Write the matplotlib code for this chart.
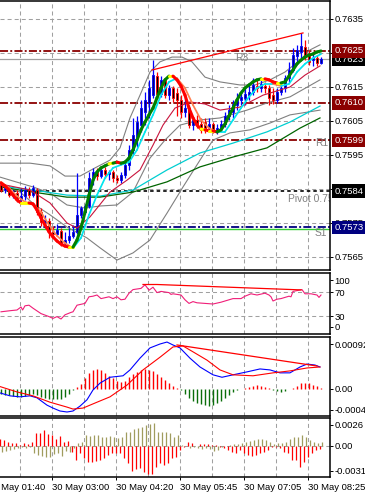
import numpy as np
import matplotlib
matplotlib.use('Agg')
import matplotlib.pyplot as plt
from matplotlib.collections import LineCollection
from matplotlib.transforms import blended_transform_factory as blend

plt.rcParams['font.family'] = ['Liberation Sans', 'DejaVu Sans']
plt.rcParams['lines.scale_dashes'] = False

# 5 minute candles, prices in 1e-5
c_open = np.array([75862, 75847, 75853, 75832, 75838, 75818, 75829, 75847, 75832, 75847,
                   75782, 75753, 75756, 75724, 75718, 75726, 75691, 75700, 75712, 75724,
                   75774, 75782, 75800, 75882, 75900, 75888, 75906, 75894, 75900, 75882,
                   75876, 75891, 75921, 75965, 76003, 76038, 76076, 76103, 76126, 76182,
                   76129, 76171, 76126, 76147, 76132, 76112, 76076, 76088, 76038, 76053,
                   76041, 76047, 76029, 76041, 76024, 76029, 76041, 76065, 76076, 76097,
                   76112, 76118, 76126, 76135, 76153, 76147, 76153, 76147, 76126, 76112,
                   76135, 76147, 76176, 76200, 76241, 76253, 76268, 76244, 76229, 76235,
                   76221]) / 1e5
c_high = np.array([75868, 75862, 75859, 75847, 75847, 75853, 75859, 75856, 75862, 75853,
                   75794, 75774, 75765, 75741, 75747, 75735, 75724, 75735, 75744, 75897,
                   75800, 75806, 75900, 75912, 75912, 75918, 75915, 75906, 75906, 75891,
                   75900, 75935, 75979, 76059, 76065, 76112, 76135, 76171, 76229, 76194,
                   76182, 76176, 76156, 76153, 76147, 76126, 76121, 76097, 76062, 76068,
                   76059, 76059, 76059, 76047, 76041, 76053, 76076, 76097, 76112, 76132,
                   76141, 76147, 76156, 76176, 76171, 76171, 76165, 76156, 76147, 76147,
                   76165, 76185, 76224, 76265, 76274, 76309, 76288, 76259, 76253, 76244,
                   76238]) / 1e5
c_low = np.array([75841, 75838, 75826, 75824, 75812, 75812, 75818, 75824, 75826, 75774,
                  75741, 75735, 75706, 75706, 75712, 75682, 75685, 75691, 75706, 75718,
                  75765, 75776, 75794, 75862, 75876, 75882, 75882, 75876, 75871, 75868,
                  75868, 75882, 75906, 75950, 75974, 76018, 76038, 76059, 76118, 76118,
                  76121, 76118, 76112, 76106, 76065, 76059, 76062, 76029, 76024, 76029,
                  76015, 76015, 76021, 76015, 76012, 76021, 76032, 76053, 76059, 76082,
                  76097, 76097, 76112, 76126, 76135, 76135, 76132, 76097, 76100, 76103,
                  76126, 76135, 76165, 76194, 76224, 76235, 76229, 76215, 76212, 76212,
                  76218]) / 1e5
c_close = np.array([75847, 75853, 75832, 75838, 75818, 75829, 75847, 75832, 75853, 75782,
                    75753, 75759, 75724, 75718, 75729, 75691, 75700, 75712, 75724, 75774,
                    75794, 75800, 75882, 75900, 75888, 75906, 75894, 75900, 75882, 75876,
                    75891, 75921, 75965, 76009, 76047, 76088, 76112, 76147, 76185, 76129,
                    76171, 76126, 76147, 76118, 76112, 76076, 76088, 76038, 76053, 76041,
                    76024, 76024, 76041, 76024, 76029, 76041, 76065, 76082, 76100, 76112,
                    76121, 76129, 76135, 76156, 76147, 76159, 76147, 76118, 76112, 76135,
                    76147, 76176, 76200, 76244, 76259, 76271, 76244, 76224, 76235, 76221,
                    76232]) / 1e5

# bollinger bands and moving averages (bar index, price 1e-5)
bb_up_x = [-0.25, 7.25, 12.25, 16, 19.75, 23.5, 27.25, 29.75, 32.25, 34.75, 37.25, 39.75,
           42.75, 45.25, 47.75, 51, 54.75, 59.75, 63.5, 67.25, 71, 74.75, 77.25, 79.75]
bb_up = np.array([75926, 75926, 75918, 75888, 75888, 75912, 75935, 75971, 76059, 76126, 76194, 76224,
                  76238, 76238, 76224, 76179, 76165, 76156, 76156, 76171, 76194, 76229, 76259, 76274]) / 1e5
bb_mid_x = [-0.25, 8, 12.25, 16.5, 21, 24.75, 29, 33, 37.25, 41, 44.75, 49.75, 54.75, 61.5, 66.5, 72.25, 79.75]
bb_mid = np.array([75885, 75856, 75838, 75803, 75794, 75800, 75803, 75841, 75941, 75994, 76038, 76053,
                   76059, 76082, 76103, 76121, 76171]) / 1e5
bb_lo_x = [-0.25, 4.75, 8.5, 12.25, 16.5, 21.5, 24.75, 29, 33, 37.25, 41.5, 45.5, 49.75, 53, 57.25,
           62.25, 67.25, 72.25, 79.75]
bb_lo = np.array([75865, 75841, 75803, 75774, 75738, 75706, 75677, 75641, 75662, 75700, 75779, 75856,
                  75935, 75994, 76015, 76024, 76044, 76068, 76082]) / 1e5
ma_x = [-0.25, 8, 16.5, 24.75, 33, 41.5, 49.75, 58, 66.5, 72.25, 79.75]
ma_cyan = np.array([75859, 75847, 75832, 75829, 75847, 75906, 75956, 75985, 76018, 76047, 76094]) / 1e5
ma_green_x = [-0.25, 8, 16.5, 24.75, 33, 41.5, 49.75, 58, 66.5, 74.75, 79.75]
ma_green = np.array([75856, 75841, 75826, 75826, 75841, 75871, 75915, 75944, 75971, 76029, 76059]) / 1e5
ma_red_x = [-0.25, 7.25, 12.25, 16.5, 19, 22.25, 27.25, 31.5, 34.75, 38, 40.5, 43.5, 47.25, 51,
            54.75, 59.75, 65.5, 72.25, 76, 79.75]
ma_red = np.array([75865, 75847, 75809, 75750, 75735, 75768, 75841, 75876, 75906, 75979, 76038, 76088,
                   76106, 76100, 76082, 76091, 76126, 76150, 76185, 76212]) / 1e5

# fast colour-changing average (every bar) and slow one (every 2 bars)
fast = np.array([75868, 75859, 75847, 75832, 75818, 75809, 75809, 75809, 75806, 75788,
                 75765, 75744, 75724, 75709, 75697, 75688, 75682, 75679, 75679, 75700,
                 75735, 75782, 75832, 75876, 75900, 75912, 75918, 75924, 75926, 75929,
                 75926, 75929, 75941, 75965, 75994, 76024, 76047, 76068, 76088, 76118,
                 76147, 76171, 76182, 76182, 76171, 76153, 76126, 76088, 76059, 76038,
                 76026, 76024, 76021, 76021, 76018, 76024, 76041, 76065, 76088, 76112,
                 76132, 76147, 76156, 76165, 76171, 76174, 76174, 76171, 76165, 76162,
                 76162, 76165, 76182, 76200, 76218, 76229, 76238, 76244, 76247, 76253,
                 76256]) / 1e5
slow = np.array([75871, 75853, 75829, 75812, 75806, 75782, 75744, 75712, 75691, 75676,
                 75706, 75774, 75832, 75882, 75912, 75921, 75929, 75965, 76018, 76068,
                 76126, 76165, 76176, 76147, 76097, 76053, 76029, 76018, 76018, 76053,
                 76088, 76121, 76147, 76159, 76159, 76153, 76159, 76194, 76218, 76235,
                 76247]) / 1e5

# RSI
rsi_x = [0, 2.5, 4, 5, 5.4, 6, 7, 8, 10, 12, 13, 14, 15, 16, 17.5, 18, 19, 21, 22, 23,
         24, 25, 27, 28, 29, 30, 31, 32, 33, 35, 36, 37, 38, 39, 40, 42, 42.5, 43, 45, 46,
         47, 48, 49, 51, 53, 55, 57, 58, 60, 61, 62.5, 64, 66, 67, 67.5, 68, 69, 70, 72, 72.5,
         73, 74.5, 75.25, 76, 77.5, 79, 79.5, 80]
rsi_v = [37, 39, 40, 45, 40, 47, 48, 43, 34, 29, 26, 29, 25, 32, 36, 37, 48, 51, 62, 63,
         65, 59, 62, 59, 62, 57, 58, 68, 74, 76, 82, 73, 78, 69, 71, 69, 66, 67, 65, 57,
         51, 54, 52, 51, 50, 53, 57, 59, 59, 63, 67, 65, 68, 65, 62, 55, 58, 59, 63, 62,
         71, 73, 74, 67, 67, 65, 61, 65]
rsi_tl_x = [35.5, 39, 75]
rsi_tl_v = [82.5, 82.5, 73.5]

# MACD (1e-5)
macd_x = [-0.25, 2.25, 4.75, 7.25, 9, 11.5, 13, 14.75, 16.5, 18, 19.75, 21.5, 23, 24.75, 27.25,
          30.5, 32.25, 34.75, 37.25, 39.75, 41.5, 43, 44.75, 47.25, 49.75, 53, 55.25, 58, 61.5,
          64.75, 67.25, 69.75, 72.25, 74.75, 76.5, 78.5, 79.75]
macd_v = np.array([-8, -14, -16, -14, -18, -33, -39, -45, -47, -45, -35, -22, -2, 12, 24,
                   27, 39, 63, 84, 92, 96, 90, 84, 63, 45, 29, 24, 29, 35,
                   41, 39, 33, 33, 45, 51, 49, 45]) / 1e5
sig_x = [-0.25, 4, 8, 12.25, 16.5, 18, 20.5, 24, 27.25, 31.5, 35.5, 39.75, 43, 45.5, 48, 51.5,
         54.75, 58, 63, 68, 72.25, 76.5, 79.75]
sig_v = np.array([5, -6, -14, -27, -37, -41, -39, -27, -16, 8, 39, 65, 86, 88, 76, 59,
                  39, 29, 27, 33, 37, 43, 45]) / 1e5
macd_tl_x = [44, 79]
macd_tl_v = np.array([90, 47]) / 1e5
osma = np.array([-10, -12, -13, -14, -16, -17, -14, -12, -10, -13,
                 -16, -18, -20, -21, -21, -20, -16, -10, -3, 5,
                 10, 22, 32, 39, 41, 39, 33, 27, 22, 17,
                 15, 17, 24, 31, 35, 39, 40, 39, 37, 31,
                 25, 18, 12, 6, 2, -2, -10, -19, -24, -28,
                 -31, -33, -35, -33, -29, -25, -19, -13, -6, -2,
                 0, 3, 5, 7, 8, 7, 5, 2, -2, -5,
                 -6, -4, -1, 3, 7, 12, 13, 12, 9, 6, 2]) / 1e5

# bottom oscillator pair (1e-4)
osc_red = np.array([7.8, 7.0, 4.1, 3.7, 2.9, 0.8, 2.9, 2.1, 4.9, 15.2,
                    16.0, 19.3, 14.0, 13.2, 7.8, 11.9, 4.9, 5.8, -7.4, -17.7,
                    -9.5, -15.6, -19.8, -19.8, -18.5, -17.7, -15.6, -11.5, -8.6, -9.5,
                    -9.5, -15.6, -21.8, -30.9, -29.2, -28.0, -32.1, -35.0, -35.0, -25.9,
                    -21.8, -23.9, -21.8, -15.6, -13.6, -5.3, -1.2, 4.1, 3.7, 0,
                    2.1, 1.6, 1.6, 0.8, 0.8, -1.2, -3.3, -5.3, -7.4, -9.5,
                    -5.3, -9.5, -11.5, -12.8, -11.5, -9.5, -7.4, -5.3, -1.2, -1.2,
                    -3.3, -7.4, -9.5, -17.7, -17.7, -25.9, -19.8, -13.6, -9.5, -5.3, -4.5]) / 1e4
osc_olive = np.array([-7.4, -6.2, -5.3, -4.5, -3.3, -1.2, -3.3, -2.1, -9.5, -11.5,
                      -12.8, -14.4, -13.6, -10.7, -8.6, -12.8, -6.2, -8.2, -3.3, 2.9,
                      4.9, 13.2, 11.9, 13.2, 13.2, 11.1, 11.1, 11.9, 10.3, 9.1,
                      11.1, 17.3, 17.3, 20.2, 21.4, 23.5, 25.5, 26.7, 27.6, 17.3,
                      17.3, 17.3, 15.2, 11.1, 13.2, 0.8, 0, -3.3, -1.2, -3.3,
                      -4.5, -3.3, -4.5, -6.2, -5.3, -1.2, 0, 0.8, 1.6, 1.6,
                      2.9, 4.1, 6.2, 7.0, 7.8, 7.8, 7.0, 4.9, 1.6, 2.9,
                      2.9, 4.9, 7.8, 10.3, 10.3, 13.2, 11.1, 7.0, 4.9, 3.7, 4.1]) / 1e4

grid_x = [4.75, 12.75, 20.75, 28.75, 36.75, 44.75, 52.75, 60.75, 68.75, 76.75]
time_x = [-3.25, 12.75, 28.75, 44.75, 60.75, 76.75]
time_lbl = ['30 May 01:40', '30 May 03:00', '30 May 04:20', '30 May 05:45',
            '30 May 07:05', '30 May 08:25']
price_ticks = [0.7635, 0.7625, 0.7615, 0.7605, 0.7595, 0.7585, 0.7575, 0.7565]

W, H = 365, 496
FS = 6.8
GRID = dict(color='#A0A0A0', lw=0.75, ls=(0, (2.9, 2.2)), zorder=0)
fig = plt.figure(figsize=(W / 100, H / 100), dpi=100, facecolor='white')


def pane(top, bottom, ylo, yhi):
    ax = fig.add_axes([0, 1 - bottom / H, 330 / W, (bottom - top) / H])
    ax.set_xlim(-0.25, 82.25)
    ax.set_ylim(ylo, yhi)
    ax.spines['left'].set_visible(False)
    for s in ['top', 'bottom', 'right']:
        ax.spines[s].set_linewidth(1.1)
    ax.set_xticks([])
    ax.yaxis.tick_right()
    ax.tick_params(axis='y', length=2.3, width=0.7, pad=0.8, labelsize=FS)
    for gx in grid_x:
        ax.axvline(gx, **GRID)
    return ax


def slope_line(ax, xs, ys, colors, lw, thr, z):
    pts = np.column_stack([xs, ys])
    segs = np.stack([pts[:-1], pts[1:]], axis=1)
    d = np.diff(ys)
    cols = [colors[0] if v > thr else colors[1] if v < -thr else colors[2] for v in d]
    ax.add_collection(LineCollection(segs, colors=cols, linewidths=lw,
                                     capstyle='round', joinstyle='round', zorder=z))


# ---- main price pane
ax = pane(1, 270, 0.7635 - 251 / 34000, 0.7635 + 18 / 34000)
for p in price_ticks:
    ax.axhline(p, **GRID)
ax.set_yticks(price_ticks)
ax.set_yticklabels(['%.4f' % p for p in price_ticks])

dashdot = (0, (5.8, 1.6, 1.4, 1.6))
ax.axhline(0.76256, color='#8B0000', lw=1.3, ls=dashdot, zorder=1)
ax.axhline(0.76103, color='#8B0000', lw=1.3, ls=dashdot, zorder=1)
ax.axhline(0.75993, color='#8B0000', lw=1.3, ls=dashdot, zorder=1)
ax.axhline(0.75844, color='black', lw=1.2, ls=(0, (2.5, 2.2)), zorder=1)
ax.axhline(0.75738, color='#000080', lw=1.3, ls=dashdot, zorder=1)
ax.axhline(0.75732, color='#32CD32', lw=1.0, zorder=1)
ax.axhline(0.76232, color='#A0A0A0', lw=0.9, zorder=1)

for txt, xx, yy in [('R3', 58.5, 0.76235), ('R1', 78.5, 0.75984),
                    ('Pivot 0.7584', 71.75, 0.75822), ('S1', 78.5, 0.75721)]:
    ax.text(xx, yy, txt, color='#808080', fontsize=FS + 0.6, va='center', ha='left',
            clip_on=True, zorder=2)

ax.plot(bb_up_x, bb_up, color='#808080', lw=0.8, zorder=2)
ax.plot(bb_mid_x, bb_mid, color='#808080', lw=0.8, zorder=2)
ax.plot(bb_lo_x, bb_lo, color='#808080', lw=0.8, zorder=2)
ax.plot(ma_x, ma_cyan, color='#00CED1', lw=0.9, zorder=2)
ax.plot(ma_green_x, ma_green, color='#006400', lw=0.9, zorder=2)
ax.plot(ma_red_x, ma_red, color='#C8143C', lw=0.8, zorder=5)
ax.plot([37.75, 75.5], [0.76200, 0.76309], color='#FF0000', lw=0.9, zorder=5)

idx = np.arange(len(c_close))
up = c_close >= c_open
lo = np.minimum(c_open, c_close)
hgt = np.maximum(np.abs(c_close - c_open), 0.000015)
ax.vlines(idx[up], c_low[up], c_high[up], color='#0000FF', lw=0.9, zorder=3)
ax.vlines(idx[~up], c_low[~up], c_high[~up], color='#FF0000', lw=0.9, zorder=3)
ax.bar(idx[up], hgt[up], 0.62, bottom=lo[up], color='#000080', edgecolor='#0000FF', lw=0.6, zorder=4)
ax.bar(idx[~up], hgt[~up], 0.62, bottom=lo[~up], color='black', edgecolor='#FF0000', lw=0.6, zorder=4)

slope_line(ax, np.arange(0, 81, 2), slow, ['#00E5EE', '#FF7F50', '#00E5EE'], 1.25, 0, 6)
slope_line(ax, idx, fast, ['#008000', '#FF0000', '#FFFF00'], 2.2, 2.5e-5, 7)

tr = blend(ax.transAxes, ax.transData)
for txt, p, fc in [('0.7573', 0.75738, '#000080'), ('0.7584', 0.75844, 'black'),
                   ('0.7599', 0.75993, '#8B0000'), ('0.7610', 0.76103, '#8B0000'),
                   ('0.7623', 0.76232, 'black'), ('0.7625', 0.76256, '#8B0000')]:
    ax.text(1.013, p, txt, transform=tr, color='white', fontsize=FS, va='center', ha='left',
            clip_on=False, zorder=10,
            bbox=dict(boxstyle='square,pad=0.22', fc=fc, ec='none'))

# ---- RSI pane
ar = pane(273, 334, 0, 61 / 0.6)
ar.axhline(70, **GRID)
ar.axhline(30, **GRID)
ar.set_yticks([90, 70, 30, 11.7])
ar.set_yticklabels(['100', '70', '30', '0'])
ar.plot(rsi_x, rsi_v, color='#F01E78', lw=0.8)
ar.plot(rsi_tl_x, rsi_tl_v, color='#FF0000', lw=0.9)

# ---- MACD pane
am = pane(337, 416, -27 / 48913, 52 / 48913)
am.set_yticks([0.00092, 0, -0.00042])
am.set_yticklabels(['0.00092', '0.00', '-0.00042'])
am.vlines(idx[osma >= 0], 0, osma[osma >= 0], color='#FF0000', lw=1.0)
am.vlines(idx[osma < 0], 0, osma[osma < 0], color='#0A6E0A', lw=1.0)
am.plot(macd_x, macd_v, color='#0000FF', lw=0.8)
am.plot(sig_x, sig_v, color='#FF0000', lw=0.8)
am.plot(macd_tl_x, macd_tl_v, color='#FF0000', lw=0.9)

# ---- bottom oscillator pane
ab = pane(418, 477, -31.3 / 8100, 27.7 / 8100)
ab.axhline(0, **GRID)
ab.set_yticks([0.0026, 0, -0.0031])
ab.set_yticklabels(['0.0026', '0.00', '-0.0031'])
ab.vlines(idx - 0.2, 0, osc_red, color='#FF0000', lw=0.9)
ab.vlines(idx + 0.2, 0, osc_olive, color='#A09C5E', lw=0.9)
ab.set_xticks(time_x[1:])
ab.tick_params(axis='x', length=2.5, width=0.7, labelbottom=False)

tt = blend(ab.transData, fig.transFigure)
for xx, lbl in zip(time_x, time_lbl):
    fig.text(xx - 0.1, 1 - 488 / H, lbl, transform=tt, fontsize=FS, va='center', ha='left')

fig.savefig('out.png', dpi=100, facecolor='white')
